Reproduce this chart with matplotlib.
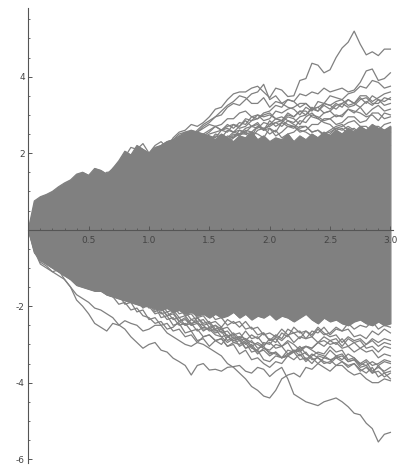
import matplotlib
matplotlib.use("Agg")
import matplotlib.pyplot as plt
from matplotlib.ticker import MultipleLocator

# ---- data ----
# common time grid (step 0.05 from 0 to 3)
t_grid = [round(0.05 * i, 3) for i in range(61)]

# edges of the dense, solid-looking core of paths
core_top = [0, .75, .86, .92, 1.0, 1.12, 1.22, 1.30, 1.45, 1.50,
            1.42, 1.60, 1.55, 1.45, 1.60, 1.80, 2.05, 1.95, 2.20, 2.10,
            2.00, 2.15, 2.20, 2.30, 2.35, 2.45, 2.55, 2.60, 2.55, 2.50,
            2.45, 2.35, 2.5, 2.4, 2.3, 2.45, 2.4, 2.55, 2.35, 2.45,
            2.3, 2.4, 2.35, 2.5, 2.3, 2.45, 2.35, 2.5, 2.4, 2.55,
            2.45, 2.6, 2.5, 2.65, 2.55, 2.7, 2.6, 2.75, 2.65, 2.6,
            2.7]
core_bot = [0, -.6, -.8, -.9, -1.0, -1.1, -1.2, -1.3, -1.45, -1.5,
            -1.55, -1.6, -1.6, -1.7, -1.75, -1.8, -1.85, -1.9, -1.95, -2.0,
            -2.0, -2.05, -2.1, -2.05, -2.15, -2.1, -2.2, -2.15, -2.25, -2.2,
            -2.3, -2.2, -2.3, -2.25, -2.15, -2.3, -2.2, -2.35, -2.25, -2.3,
            -2.2, -2.35, -2.25, -2.3, -2.4, -2.3, -2.2, -2.35, -2.45, -2.3,
            -2.4, -2.35, -2.45, -2.5, -2.4, -2.35, -2.45, -2.5, -2.4, -2.5,
            -2.45]

# individual paths visible at the fringes (upper)
up1 = [0, .35, .5, .72, .8, .7, 1.0, .9, 1.2, 1.05,
       1.3, 1.45, 1.4, 1.3, 1.6, 1.75, 1.9, 2.15, 2.1, 2.25,
       2.0, 2.2, 2.3, 2.15, 2.4, 2.55, 2.6, 2.75, 2.7, 2.8,
       2.95, 3.15, 3.2, 3.4, 3.55, 3.6, 3.6, 3.7, 3.75, 3.6,
       3.45, 3.7, 3.65, 3.48, 3.5, 3.9, 3.95, 4.35, 4.3, 4.1,
       4.18, 4.5, 4.75, 4.9, 5.19, 4.85, 4.57, 4.65, 4.55, 4.72,
       4.72]
up2 = [0, .3, .4, .6, .7, .8, .9, 1.05, 1.1, 1.0,
       1.2, 1.35, 1.3, 1.45, 1.5, 1.7, 1.7, 1.85, 1.9, 1.75,
       1.9, 2.05, 2.1, 2.0, 2.2, 2.35, 2.4, 2.3, 2.55, 2.7,
       2.8, 2.95, 3.1, 3.25, 3.35, 3.5, 3.45, 3.3, 3.3, 3.45,
       3.2, 3.35, 3.3, 3.4, 3.35, 3.55, 3.5, 3.6, 3.55, 3.7,
       3.6, 3.65, 3.7, 3.6, 3.65, 3.85, 4.15, 4.2, 3.9, 3.95,
       4.1]
up3 = [0, .4, .45, .65, .75, .85, .9, 1.0, 1.1, 1.25,
       1.3, 1.2, 1.35, 1.5, 1.5, 1.65, 1.8, 1.95, 2.0, 1.9,
       1.95, 2.1, 2.2, 2.3, 2.35, 2.5, 2.55, 2.45, 2.6, 2.75,
       2.85, 2.95, 3.0, 3.2, 3.3, 3.25, 3.4, 3.55, 3.6, 3.8,
       3.4, 3.5, 3.3, 3.2, 3.15, 3.0, 3.2, 3.1, 3.35, 3.3,
       3.5, 3.45, 3.4, 3.55, 3.6, 3.75, 3.7, 3.9, 3.85, 3.7,
       3.75]
up4 = [0, .25, .3, .5, .6, .7, .8, .95, 1.0, .9,
       1.1, 1.2, 1.25, 1.3, 1.4, 1.55, 1.6, 1.7, 1.8, 1.7,
       1.85, 1.95, 2.0, 2.15, 2.1, 2.25, 2.2, 2.35, 2.4, 2.5,
       2.6, 2.7, 2.75, 2.9, 2.9, 3.05, 3.1, 2.95, 3.0, 2.85,
       2.9, 3.1, 3.05, 3.15, 3.2, 3.3, 3.3, 3.15, 3.1, 3.3,
       3.25, 3.35, 3.4, 3.25, 3.3, 3.5, 3.5, 3.35, 3.45, 3.55,
       3.6]
up5 = [0, .2, .35, .45, .55, .6, .7, .8, .9, 1.0,
       1.0, 1.05, 1.1, 1.2, 1.3, 1.4, 1.5, 1.6, 1.7, 1.65,
       1.7, 1.85, 1.9, 1.95, 2.0, 2.1, 2.1, 2.2, 2.3, 2.4,
       2.5, 2.55, 2.6, 2.7, 2.75, 2.65, 2.7, 2.85, 2.9, 3.0,
       3.05, 2.9, 2.95, 2.85, 2.8, 2.95, 3.0, 3.15, 3.2, 3.05,
       3.1, 3.25, 3.3, 3.2, 3.25, 3.4, 3.45, 3.3, 3.3, 3.45,
       3.4]
up6 = [0, .3, .25, .45, .4, .6, .5, .7, .85, .75,
       .9, 1.05, .95, 1.1, 1.25, 1.15, 1.4, 1.35, 1.5, 1.6,
       1.55, 1.75, 1.7, 1.9, 1.85, 2.0, 1.9, 2.1, 2.05, 2.25,
       2.3, 2.45, 2.4, 2.6, 2.55, 2.7, 2.85, 2.7, 2.75, 2.6,
       2.85, 2.7, 2.8, 2.95, 2.9, 2.75, 2.95, 3.05, 2.9, 3.05,
       3.1, 2.95, 3.0, 3.15, 3.05, 3.2, 3.0, 3.15, 3.25, 3.1,
       3.15]
up7 = [0, .2, .3, .25, .4, .5, .45, .6, .7, .65,
       .8, .75, .9, 1.05, 1.0, 1.15, 1.3, 1.25, 1.4, 1.35,
       1.5, 1.6, 1.55, 1.75, 1.7, 1.85, 1.8, 2.0, 2.1, 2.05,
       2.2, 2.3, 2.4, 2.35, 2.5, 2.45, 2.6, 2.55, 2.5, 2.4,
       2.65, 2.55, 2.8, 2.7, 2.7, 2.55, 2.6, 2.75, 2.75, 2.9,
       2.9, 2.75, 2.8, 2.95, 2.95, 2.8, 2.85, 3.05, 3.05, 2.9,
       2.95]
up8 = [0, .15, .25, .35, .45, .4, .55, .5, .6, .7,
       .75, .7, .85, .95, 1.0, 1.1, 1.2, 1.15, 1.3, 1.25,
       1.4, 1.5, 1.45, 1.6, 1.6, 1.7, 1.75, 1.85, 1.9, 2.0,
       2.1, 2.2, 2.3, 2.25, 2.4, 2.5, 2.5, 2.4, 2.6, 2.65,
       2.5, 2.6, 2.4, 2.5, 2.55, 2.7, 2.7, 2.55, 2.6, 2.45,
       2.5, 2.65, 2.7, 2.8, 2.85, 2.7, 2.7, 2.55, 2.6, 2.75,
       2.8]
up9 = [0, .25, .2, .35, .3, .5, .55, .7, .65, .8,
       .7, .85, .8, .95, .9, 1.05, 1.2, 1.1, 1.3, 1.25,
       1.45, 1.4, 1.55, 1.6, 1.7, 1.65, 1.85, 1.8, 2.0, 1.95,
       2.2, 2.15, 2.35, 2.3, 2.45, 2.5, 2.55, 2.45, 2.7, 2.65,
       2.7, 2.8, 2.85, 2.75, 2.7, 2.6, 2.55, 2.45, 2.4, 2.5,
       2.6, 2.7, 2.75, 2.6, 2.65, 2.5, 2.55, 2.7, 2.7, 2.6,
       2.65]
up10 = [0, .3, .35, .5, .45, .65, .6, .8, .75, .95,
        .95, 1.05, 1.1, 1.2, 1.3, 1.25, 1.45, 1.4, 1.6, 1.55,
        1.75, 1.7, 1.9, 1.85, 2.05, 2.1, 2.2, 2.15, 2.3, 2.25,
        2.45, 2.4, 2.6, 2.55, 2.75, 2.7, 2.9, 2.85, 3.0, 2.95,
        3.0, 2.9, 2.85, 3.0, 2.95, 3.1, 3.1, 2.95, 2.9, 2.8,
        2.75, 2.6, 2.65, 2.5, 2.5, 2.4, 2.35, 2.4, 2.3, 2.25,
        2.2]
up11 = [0, .35, .4, .55, .6, .7, .75, .9, .95, 1.0,
        1.05, 1.2, 1.15, 1.3, 1.25, 1.5, 1.45, 1.7, 1.6, 1.8,
        1.75, 1.95, 1.9, 2.1, 2.0, 2.2, 2.35, 2.3, 2.5, 2.45,
        2.55, 2.7, 2.6, 2.75, 2.65, 2.8, 2.75, 2.95, 2.9, 3.05,
        3.1, 3.25, 3.2, 3.4, 3.35, 3.2, 3.3, 3.15, 3.2, 3.3,
        3.25, 3.15, 3.3, 3.4, 3.3, 3.45, 3.3, 3.5, 3.4, 3.35,
        3.45]
up12 = [0, .3, .25, .5, .55, .65, .7, .8, .85, .95,
        1.0, 1.1, 1.05, 1.25, 1.2, 1.4, 1.35, 1.55, 1.45, 1.65,
        1.6, 1.8, 1.75, 1.9, 1.85, 2.0, 1.95, 2.15, 2.2, 2.35,
        2.3, 2.5, 2.45, 2.4, 2.55, 2.5, 2.65, 2.7, 2.8, 2.6,
        2.65, 2.45, 2.55, 2.7, 2.65, 2.85, 2.8, 3.0, 2.95, 2.85,
        2.9, 3.0, 2.95, 3.15, 3.1, 3.05, 2.95, 3.0, 2.85, 3.05,
        3.0]
up13 = [0, .2, .3, .45, .4, .55, .65, .6, .75, .7,
        .85, .9, 1.0, .95, 1.15, 1.1, 1.3, 1.25, 1.4, 1.5,
        1.45, 1.6, 1.55, 1.75, 1.7, 1.85, 1.95, 1.9, 2.05, 2.0,
        2.2, 2.3, 2.25, 2.45, 2.4, 2.6, 2.55, 2.7, 2.65, 2.8,
        2.75, 2.9, 2.85, 3.05, 2.95, 3.1, 3.0, 3.2, 3.1, 3.25,
        3.15, 3.3, 3.2, 3.4, 3.3, 3.2, 3.35, 3.25, 3.4, 3.25,
        3.3]
up14 = [0, .4, .45, .6, .55, .75, .8, .9, .85, 1.0,
        1.1, 1.2, 1.15, 1.35, 1.4, 1.55, 1.5, 1.7, 1.8, 1.75,
        1.9, 2.0, 2.1, 2.05, 2.25, 2.3, 2.45, 2.4, 2.55, 2.65,
        2.75, 2.7, 2.6, 2.65, 2.55, 2.6, 2.5, 2.55, 2.7, 2.6,
        2.75, 2.8, 2.7, 2.85, 2.75, 2.65, 2.7, 2.55, 2.6, 2.5,
        2.55, 2.65, 2.6, 2.7, 2.6, 2.5, 2.55, 2.45, 2.6, 2.5,
        2.55]

# individual paths visible at the fringes (lower)
lo1 = [0, -.55, -.9, -1.0, -1.1, -1.05, -1.3, -1.5, -1.84, -2.0,
       -2.2, -2.45, -2.55, -2.65, -2.45, -2.5, -2.38, -2.45, -2.5, -2.65,
       -2.6, -2.5, -2.5, -2.7, -2.8, -2.9, -3.0, -3.05, -2.95, -3.0,
       -3.1, -3.2, -3.3, -3.5, -3.6, -3.75, -3.9, -4.1, -4.2, -4.35,
       -4.4, -4.2, -3.9, -3.8, -3.75, -3.85, -3.6, -3.65, -3.5, -3.6,
       -3.7, -3.55, -3.55, -3.7, -3.8, -3.75, -3.9, -4.0, -4.0, -3.9,
       -3.95]
lo2 = [0, -.5, -.85, -.95, -1.1, -1.2, -1.3, -1.5, -1.7, -1.8,
       -1.9, -2.05, -2.1, -2.2, -2.3, -2.49, -2.6, -2.8, -2.95, -3.1,
       -3.0, -2.95, -3.15, -3.2, -3.36, -3.45, -3.55, -3.8, -3.55, -3.5,
       -3.67, -3.65, -3.7, -3.6, -3.58, -3.55, -3.7, -3.75, -3.6, -3.65,
       -3.84, -3.7, -3.6, -3.9, -4.3, -4.4, -4.5, -4.55, -4.6, -4.5,
       -4.45, -4.4, -4.5, -4.63, -4.8, -4.84, -5.06, -5.2, -5.55, -5.35,
       -5.3]
lo3 = [0, -.35, -.5, -.7, -.65, -.9, -.85, -1.1, -1.05, -1.35,
       -1.3, -1.5, -1.45, -1.6, -1.55, -1.8, -1.75, -1.9, -1.85, -2.05,
       -1.95, -2.15, -2.05, -2.25, -2.15, -2.4, -2.3, -2.5, -2.45, -2.65,
       -2.55, -2.7, -2.65, -2.9, -2.8, -3.05, -2.95, -3.2, -3.15, -3.4,
       -3.45, -3.3, -3.35, -3.15, -3.2, -3.05, -3.25, -3.35, -3.5, -3.35,
       -3.4, -3.55, -3.45, -3.6, -3.5, -3.65, -3.75, -3.6, -3.85, -3.75,
       -3.9]
lo4 = [0, -.3, -.4, -.6, -.55, -.8, -.75, -1.0, -.95, -1.2,
       -1.3, -1.25, -1.45, -1.4, -1.6, -1.55, -1.75, -1.7, -1.9, -1.85,
       -2.05, -2.0, -2.3, -2.25, -2.5, -2.45, -2.7, -2.65, -2.9, -2.85,
       -3.05, -2.9, -3.0, -2.8, -2.9, -2.85, -3.1, -3.05, -3.25, -3.1,
       -3.15, -3.0, -3.05, -2.95, -3.2, -3.15, -3.4, -3.25, -3.35, -3.45,
       -3.5, -3.35, -3.45, -3.55, -3.5, -3.7, -3.6, -3.75, -3.55, -3.75,
       -3.7]
lo5 = [0, -.25, -.3, -.5, -.45, -.7, -.65, -.9, -.85, -1.1,
       -1.1, -1.25, -1.3, -1.45, -1.5, -1.6, -1.7, -1.75, -1.85, -1.8,
       -2.0, -1.95, -2.2, -2.15, -2.35, -2.3, -2.5, -2.45, -2.65, -2.55,
       -2.6, -2.75, -2.8, -2.95, -2.85, -2.8, -2.85, -2.95, -3.0, -3.1,
       -3.2, -3.25, -3.35, -3.3, -3.2, -3.1, -3.05, -3.15, -3.25, -3.3,
       -3.4, -3.35, -3.3, -3.45, -3.4, -3.5, -3.55, -3.45, -3.55, -3.45,
       -3.5]
lo6 = [0, -.3, -.35, -.55, -.6, -.8, -.75, -1.0, -.95, -1.2,
       -1.15, -1.35, -1.3, -1.5, -1.45, -1.6, -1.55, -1.75, -1.7, -1.85,
       -1.8, -2.0, -1.95, -2.15, -2.1, -2.3, -2.25, -2.45, -2.4, -2.6,
       -2.6, -2.5, -2.6, -2.55, -2.75, -2.7, -2.9, -2.75, -2.85, -2.7,
       -2.9, -2.85, -3.05, -2.9, -3.0, -3.15, -3.05, -3.1, -2.95, -2.9,
       -3.0, -2.95, -3.1, -3.05, -3.2, -3.1, -3.2, -3.15, -3.35, -3.25,
       -3.3]
lo7 = [0, -.2, -.25, -.4, -.45, -.6, -.55, -.75, -.7, -.9,
       -.95, -.9, -1.1, -1.05, -1.25, -1.2, -1.4, -1.35, -1.55, -1.5,
       -1.7, -1.65, -1.85, -1.8, -2.0, -1.95, -2.15, -2.1, -2.3, -2.25,
       -2.45, -2.4, -2.55, -2.35, -2.45, -2.4, -2.6, -2.55, -2.75, -2.7,
       -2.9, -2.75, -2.85, -2.6, -2.7, -2.65, -2.85, -2.8, -2.95, -2.8,
       -2.9, -2.85, -3.05, -2.85, -2.95, -2.9, -3.1, -3.05, -3.2, -3.05,
       -3.1]
lo8 = [0, -.2, -.15, -.35, -.3, -.5, -.45, -.65, -.6, -.8,
       -.75, -.9, -.85, -1.05, -1.0, -1.2, -1.15, -1.35, -1.3, -1.5,
       -1.45, -1.6, -1.55, -1.75, -1.7, -1.9, -1.85, -2.05, -2.0, -2.2,
       -2.15, -2.35, -2.3, -2.5, -2.4, -2.55, -2.4, -2.6, -2.55, -2.75,
       -2.7, -2.8, -2.6, -2.75, -2.7, -2.85, -2.65, -2.75, -2.55, -2.7,
       -2.8, -2.75, -2.95, -2.8, -2.9, -2.85, -3.0, -2.85, -2.95, -2.85,
       -2.9]
lo9 = [0, -.25, -.3, -.5, -.45, -.65, -.6, -.8, -.75, -.95,
       -.95, -1.15, -1.1, -1.3, -1.25, -1.45, -1.4, -1.6, -1.55, -1.75,
       -1.7, -1.9, -1.85, -2.05, -2.0, -2.2, -2.15, -2.35, -2.3, -2.5,
       -2.45, -2.65, -2.6, -2.8, -2.75, -2.9, -2.85, -3.05, -2.95, -3.05,
       -2.85, -2.95, -2.7, -2.8, -2.55, -2.7, -2.65, -2.8, -2.6, -2.75,
       -2.7, -2.55, -2.65, -2.6, -2.8, -2.75, -2.85, -2.65, -2.75, -2.6,
       -2.7]
lo10 = [0, -.35, -.4, -.6, -.65, -.8, -.85, -1.0, -1.05, -1.2,
        -1.25, -1.4, -1.45, -1.55, -1.6, -1.7, -1.75, -1.85, -1.9, -2.0,
        -2.0, -2.2, -2.15, -2.35, -2.3, -2.5, -2.45, -2.65, -2.6, -2.8,
        -2.75, -2.9, -2.85, -3.05, -2.95, -3.0, -2.9, -3.1, -3.15, -2.95,
        -3.0, -2.8, -2.9, -2.75, -2.95, -2.8, -2.85, -2.65, -2.7, -2.55,
        -2.75, -2.6, -2.65, -2.45, -2.6, -2.5, -2.55, -2.4, -2.6, -2.5,
        -2.55]
lo11 = [0, -.3, -.25, -.5, -.45, -.7, -.65, -.9, -.85, -1.1,
        -1.05, -1.3, -1.25, -1.5, -1.45, -1.65, -1.6, -1.8, -1.75, -1.95,
        -1.9, -2.1, -2.05, -2.25, -2.2, -2.4, -2.35, -2.5, -2.3, -2.45,
        -2.4, -2.6, -2.55, -2.8, -2.7, -2.85, -2.65, -2.85, -2.8, -3.0,
        -2.95, -3.1, -3.05, -3.25, -3.2, -3.4, -3.35, -3.5, -3.3, -3.35,
        -3.15, -3.3, -3.25, -3.45, -3.4, -3.6, -3.55, -3.75, -3.7, -3.85,
        -3.75]
lo12 = [0, -.35, -.45, -.6, -.7, -.85, -.9, -1.05, -1.1, -1.25,
        -1.3, -1.4, -1.55, -1.5, -1.75, -1.7, -1.95, -1.9, -2.15, -2.1,
        -2.35, -2.3, -2.5, -2.45, -2.65, -2.6, -2.8, -2.75, -2.95, -2.8,
        -2.75, -2.9, -2.85, -3.05, -3.0, -3.25, -3.15, -3.4, -3.35, -3.5,
        -3.6, -3.45, -3.5, -3.3, -3.4, -3.25, -3.45, -3.3, -3.2, -3.25,
        -3.05, -3.2, -3.15, -3.4, -3.35, -3.55, -3.45, -3.7, -3.6, -3.7,
        -3.6]
lo13 = [0, -.4, -.5, -.7, -.75, -.95, -1.0, -1.2, -1.15, -1.35,
        -1.4, -1.55, -1.5, -1.7, -1.75, -1.95, -1.9, -2.1, -2.05, -2.25,
        -2.3, -2.45, -2.4, -2.6, -2.55, -2.4, -2.5, -2.35, -2.45, -2.5,
        -2.65, -2.6, -2.8, -2.75, -2.95, -2.9, -3.1, -3.0, -3.2, -3.15,
        -3.3, -3.2, -3.35, -3.25, -3.15, -3.3, -3.2, -3.4, -3.35, -3.5,
        -3.45, -3.3, -3.4, -3.25, -3.35, -3.5, -3.4, -3.55, -3.5, -3.4,
        -3.45]
lo14 = [0, -.2, -.3, -.4, -.5, -.55, -.65, -.75, -.8, -.9,
        -1.0, -1.05, -1.15, -1.2, -1.35, -1.3, -1.5, -1.45, -1.65, -1.6,
        -1.8, -1.75, -1.95, -1.9, -2.1, -2.05, -2.25, -2.2, -2.4, -2.35,
        -2.55, -2.5, -2.7, -2.65, -2.85, -2.8, -3.0, -2.9, -3.1, -3.05,
        -3.25, -3.2, -3.35, -3.3, -3.15, -3.2, -3.05, -3.1, -2.95, -3.05,
        -2.9, -3.0, -2.85, -3.05, -2.95, -3.1, -3.0, -2.9, -3.05, -2.95,
        -3.0]

x_ticks = [0.5, 1.0, 1.5, 2.0, 2.5, 3.0]
x_tick_labels = ["0.5", "1.0", "1.5", "2.0", "2.5", "3.0"]
y_ticks = [-6, -4, -2, 2, 4]
y_tick_labels = ["-6", "-4", "-2", "2", "4"]

paths = [up1, up2, up3, up4, up5, up6, up7, up8, up9, up10, up11, up12, up13, up14,
         lo1, lo2, lo3, lo4, lo5, lo6, lo7, lo8, lo9, lo10, lo11, lo12, lo13, lo14]

# ---- drawing ----
line_color = "#808080"
axis_color = "#555555"
text_color = "#444444"

plt.rcParams["axes.unicode_minus"] = False
fig = plt.figure(figsize=(3.99, 4.68), dpi=100)
ax = fig.add_axes([28.3 / 399, 5 / 468, 364.5 / 399, (463 - 7.8) / 468])
ax.set_xlim(0, 3.02)
ax.set_ylim(-6.1, 5.8)

ax.fill_between(t_grid, core_bot, core_top, color=line_color, lw=0.9, zorder=1)
ax.plot(t_grid, core_top, color=line_color, lw=0.9, zorder=1)
ax.plot(t_grid, core_bot, color=line_color, lw=0.9, zorder=1)
for p in paths:
    ax.plot(t_grid, p, color=line_color, lw=0.9, zorder=2)

for s in ["top", "right"]:
    ax.spines[s].set_visible(False)
ax.spines["bottom"].set_position(("data", 0))
ax.spines["left"].set_position(("data", 0))
for s in ["bottom", "left"]:
    ax.spines[s].set_color(axis_color)
    ax.spines[s].set_linewidth(0.8)
    ax.spines[s].set_zorder(3)
ax.set_axisbelow(False)

ax.set_xticks(x_ticks)
ax.set_xticklabels(x_tick_labels)
ax.set_yticks(y_ticks)
ax.set_yticklabels(y_tick_labels)
ax.xaxis.set_minor_locator(MultipleLocator(0.1))
ax.yaxis.set_minor_locator(MultipleLocator(0.5))
ax.tick_params(axis="both", which="major", direction="in", length=3, width=0.7,
               color=axis_color, labelsize=6.5, labelcolor=text_color)
ax.tick_params(axis="both", which="minor", direction="in", length=1.7, width=0.6,
               color=axis_color)
ax.tick_params(axis="x", which="major", pad=4.5)
ax.tick_params(axis="y", which="major", pad=2.5)

fig.savefig("out.png", dpi=100, facecolor="white")
